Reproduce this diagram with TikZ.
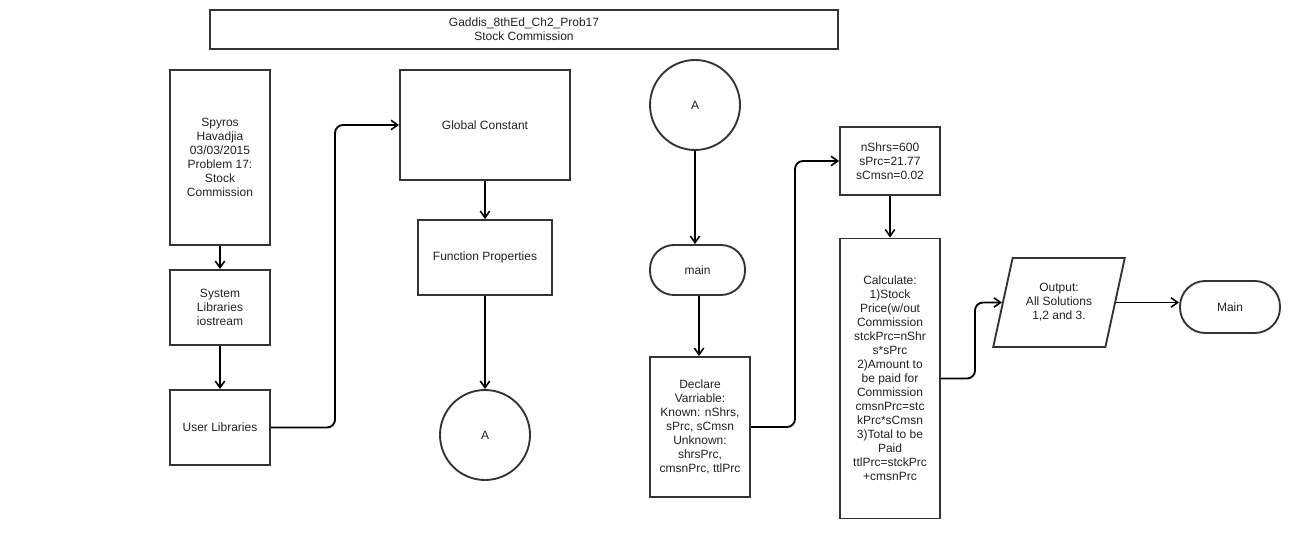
\documentclass[tikz,border=0pt]{standalone}
\usepackage{fontspec}
\setmainfont{Liberation Sans}
\usetikzlibrary{arrows.meta,shapes.geometric}
\definecolor{edge}{HTML}{333333}
\definecolor{ink}{HTML}{222222}
\begin{document}
\begin{tikzpicture}[x=0.75pt,y=-0.75pt,
  every node/.style={font=\fontsize{9}{10.5}\selectfont, text=ink, align=center, inner sep=0pt},
  pbox/.style={draw=edge, line width=1.4pt, rectangle},
  term/.style={draw=edge, line width=1.4pt, rectangle, rounded corners=18pt},
  conn/.style={draw=edge, line width=1.4pt, circle, minimum size=90*0.75pt},
  flow/.style={draw=black, line width=1.4pt, -{Straight Barb[length=5pt,width=7pt,line width=1.2pt]}, rounded corners=6pt}]
\fill[white] (0,0) rectangle (1306,538);
\useasboundingbox (0,0) rectangle (1306,538);

% title block
\node[pbox, minimum width=628*0.75pt, minimum height=39*0.75pt] (title) at (524,29.5)
  {Gaddis\_8thEd\_Ch2\_Prob17\\Stock Commission};

% left column
\node[pbox, minimum width=100*0.75pt, minimum height=175*0.75pt] (author) at (220,157.5)
  {Spyros\\Havadjia\\03/03/2015\\Problem 17:\\Stock\\Commission};
\node[pbox, minimum width=100*0.75pt, minimum height=75*0.75pt] (syslib) at (220,307.5)
  {System\\Libraries\\iostream};
\node[pbox, minimum width=100*0.75pt, minimum height=75*0.75pt] (userlib) at (220,427.5)
  {User Libraries};

% second column
\node[pbox, minimum width=170*0.75pt, minimum height=110*0.75pt] (glob) at (485,125)
  {Global Constant};
\node[pbox, minimum width=134*0.75pt, minimum height=75*0.75pt] (func) at (485,257.5)
  {Function Properties};
\node[conn] (conA) at (485,435) {A};

% main column
\node[conn] (conB) at (695,105) {A};
\node[term, minimum width=95*0.75pt, minimum height=50*0.75pt] (main) at (697.5,270) {main};
\node[pbox, minimum width=100*0.75pt, minimum height=140*0.75pt] (decl) at (700,427)
  {Declare\\Varriable:\\Known: nShrs,\\sPrc, sCmsn\\Unknown:\\shrsPrc,\\cmsnPrc, ttlPrc};

% processing column
\node[pbox, minimum width=100*0.75pt, minimum height=68*0.75pt] (init) at (890,161)
  {nShrs=600\\sPrc=21.77\\sCmsn=0.02};
\node[pbox, minimum width=100*0.75pt, minimum height=280*0.75pt] (calc) at (890,378.5)
  {Calculate:\\1)Stock\\Price(w/out\\Commission\\stckPrc=nShr\\s*sPrc\\2)Amount to\\be paid for\\Commission\\cmsnPrc=stc\\kPrc*sCmsn\\3)Total to be\\Paid\\ttlPrc=stckPrc\\+cmsnPrc};

% output and end
\node[draw=edge, line width=1.4pt, trapezium, trapezium left angle=70, trapezium right angle=110,
  trapezium stretches=true, minimum width=132*0.75pt, minimum height=89*0.75pt] (out) at (1059,302.5)
  {Output:\\All Solutions\\1,2 and 3.};
\node[term, minimum width=100*0.75pt, minimum height=52*0.75pt, rounded corners=19pt] (fin) at (1230,307) {Main};

% connectors
\draw[flow] (author) -- (syslib);
\draw[flow] (syslib) -- (userlib);
\draw[flow] (userlib.east) -- (335,427.5) -- (335,125) -- (glob.west);
\draw[flow] (glob) -- (func);
\draw[flow] (func) -- (conA);
\draw[flow] (conB) -- (conB |- main.north);
\draw[flow] (main.south -| 699,0) -- (decl.north -| 699,0);
\draw[flow] (decl.east) -- (795,427) -- (795,161) -- (init.west);
\draw[flow] (init) -- (calc);
\draw[flow] (calc.east) -- (975,378.5) -- (975,302.5) -- (out.left side);
\draw[flow] (out.right side) -- (fin.west |- out.right side);
\end{tikzpicture}
\end{document}
